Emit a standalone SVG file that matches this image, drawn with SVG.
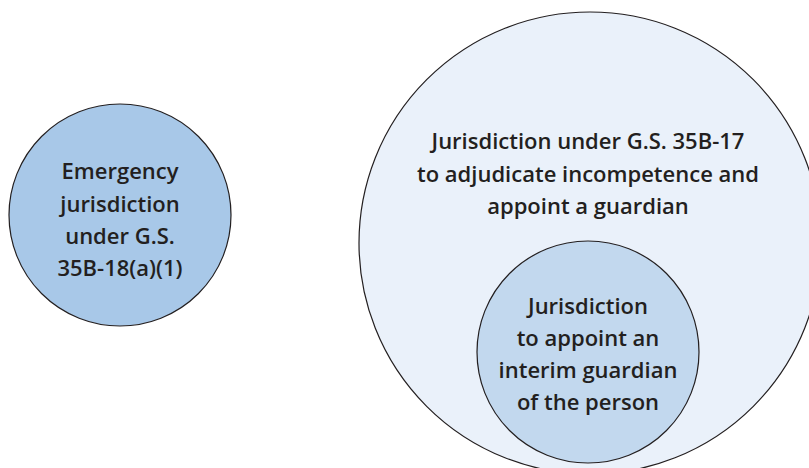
<svg xmlns="http://www.w3.org/2000/svg" width="809" height="468" viewBox="0 0 809 468">
<style>
.c{stroke:#231f20;stroke-width:1.2}
.t{font-family:"Open Sans","Noto Sans","Liberation Sans",sans-serif;font-weight:600;font-size:22px;fill:#231f20;text-anchor:middle}
</style>
<rect width="809" height="468" fill="#ffffff"/>
<g id="emergency">
<circle class="c" cx="120" cy="215" r="111" fill="#a8c8e8"/>
<text class="t" x="120" y="179">Emergency</text>
<text class="t" x="120" y="211.5">jurisdiction</text>
<text class="t" x="120" y="244">under G.S.</text>
<text class="t" x="120" y="276">35B-18(a)(1)</text>
</g>
<g id="adjudicate">
<circle class="c" cx="590" cy="243" r="231" fill="#eaf1fa"/>
<text class="t" x="588" y="149">Jurisdiction under G.S. 35B-17</text>
<text class="t" x="588" y="181.5">to adjudicate incompetence and</text>
<text class="t" x="588" y="213.5">appoint a guardian</text>
</g>
<g id="interim">
<circle class="c" cx="588" cy="352" r="111" fill="#c2d8ee"/>
<text class="t" x="588" y="314">Jurisdiction</text>
<text class="t" x="588" y="346">to appoint an</text>
<text class="t" x="588" y="378">interim guardian</text>
<text class="t" x="588" y="410">of the person</text>
</g>
<g id="connectors"/>
</svg>
